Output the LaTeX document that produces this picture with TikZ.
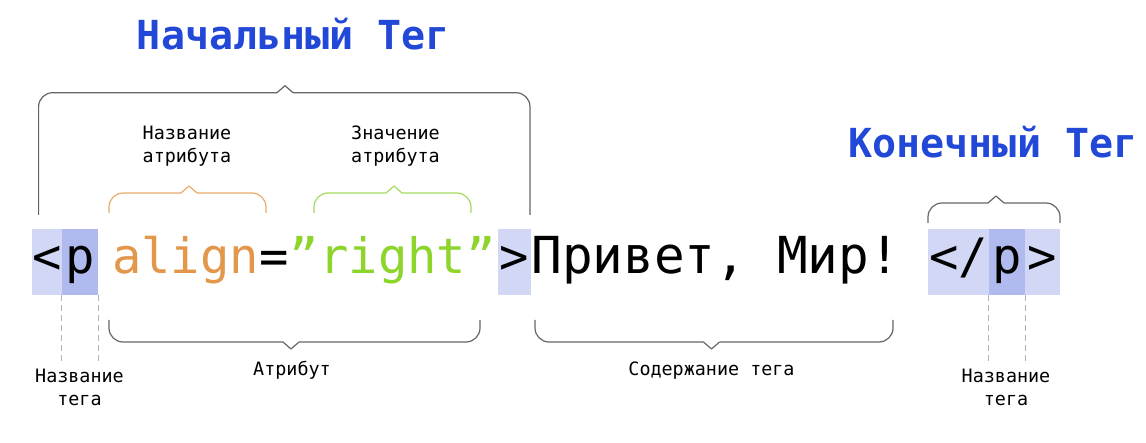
\documentclass[tikz,border=0pt]{standalone}
\usepackage{fontspec}
\setmainfont{DejaVu Sans Mono}
\definecolor{boxlight}{HTML}{D2D7F6}
\definecolor{boxdark}{HTML}{B0BAEE}
\definecolor{attrorange}{HTML}{E2974A}
\definecolor{attrgreen}{HTML}{8DD42B}
\definecolor{titleblue}{HTML}{2248D8}
\definecolor{braceorange}{HTML}{E9AA6A}
\definecolor{bracegreen}{HTML}{A2DC5E}

% brace: [colour]{left x}{right x}{tip x}{line y}{arm end y}
\newcommand{\tagbrace}[6][black!60]{%
  \draw[brace,#1] (#2,#6) [rounded corners=7pt] -- (#2,#5) -- ({#4-8},#5);
  \draw[brace,#1] ({#4-8},#5) -- (#4,{#5+7*sign(#5-#6)}) -- ({#4+8},#5);
  \draw[brace,#1] ({#4+8},#5) [rounded corners=7pt] -- (#3,#5) -- (#3,#6);
}

\begin{document}
\begin{tikzpicture}[x=0.5pt, y=-0.5pt,
    codetext/.style={font=\fontsize{24.4}{24.4}\selectfont, inner sep=0},
    tagbox/.style={codetext, fill=boxlight, text height=22.5pt, text depth=10.5pt, anchor=base},
    namebox/.style={tagbox, fill=boxdark},
    note/.style={font=\fontsize{9.2}{11.5}\selectfont, align=center, inner sep=1.5pt, anchor=base},
    heading/.style={font=\fontsize{20}{20}\selectfont\bfseries, text=titleblue, anchor=base},
    brace/.style={line width=0.6pt, line join=round},
    guide/.style={black!30, dash pattern=on 3pt off 2pt, line width=0.4pt}]
  \useasboundingbox[fill=white] (0,0) rectangle (1146,443);

  \node[heading] (starthead) at (293.5,50) {Начальный Тег};
  \node[heading] (endhead) at (993,158) {Конечный Тег};

  \node[tagbox, minimum width=15pt] (olt) at (47,274) {<};
  \node[namebox, minimum width=18pt] (op) at (80,274) {p};
  \node[codetext, anchor=base, text=attrorange] (aname) at (185.5,274) {align};
  \node[codetext, anchor=base west] (eq) at (aname.base east) {=};
  \node[codetext, anchor=base west, text=attrgreen] (aval) at (eq.base east) {”right”};
  \node[tagbox, minimum width=16.5pt] (ogt) at (514.5,274) {>};
  \node[codetext, anchor=base west, font=\fontsize{25.5}{25.5}\selectfont] (content) at (531,274) {Привет, Мир!};

  \node[tagbox, minimum width=30.5pt] (clt) at (958.5,274) {</};
  \node[namebox, minimum width=18pt] (cp) at (1007,274) {p};
  \node[tagbox, minimum width=17.5pt] (cgt) at (1042.5,274) {>};

  \node[note] (namenote) at (187,163) {Название\\атрибута};
  \node[note] (valuenote) at (395.5,163) {Значение\\атрибута};
  \node[note] (attrnote) at (292,375) {Атрибут};
  \node[note] (contentnote) at (711.5,375) {Содержание тега};
  \node[note] (onamenote) at (79.5,405) {Название\\тега};
  \node[note] (cnamenote) at (1006,405) {Название\\тега};

  \draw[guide] (op.south west) -- (op.south west |- onamenote.north);
  \draw[guide] (op.south east) -- (op.south east |- onamenote.north);
  \draw[guide] (cp.south west) -- (cp.south west |- cnamenote.north);
  \draw[guide] (cp.south east) -- (cp.south east |- cnamenote.north);

  \tagbrace{38.6}{530}{285}{92.7}{215}
  \tagbrace[braceorange]{109}{266}{189}{193}{213}
  \tagbrace[bracegreen]{314}{471}{394}{193}{213}
  \tagbrace{928}{1060}{996}{203}{223}
  \tagbrace{109}{480}{291}{342}{320}
  \tagbrace{535}{893}{711.5}{342}{320}
\end{tikzpicture}
\end{document}
